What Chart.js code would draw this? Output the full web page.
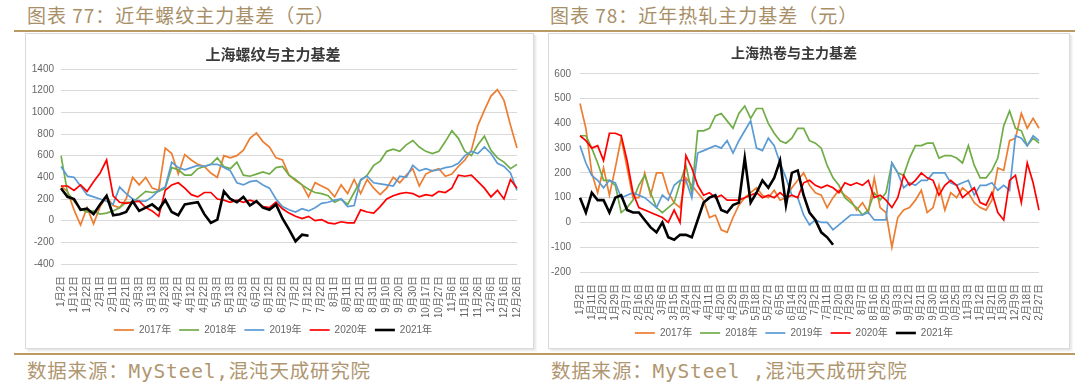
<!DOCTYPE html>
<html>
<head>
<meta charset="utf-8">
<script src="https://cdn.jsdelivr.net/npm/chart.js@4.4.1/dist/chart.umd.min.js"></script>
<style>
    body { margin: 0; width: 1080px; height: 385px; background: #fff; position: relative; overflow: hidden; font-family: "Noto Sans CJK SC", sans-serif; }
    .titulo { position: absolute; top: 3px; font-size: 19px; line-height: 24px; color: #a88f68; letter-spacing: 1px; white-space: nowrap; }
    .regla { position: absolute; left: 14px; width: 1061px; height: 2px; background: #b99a62; }
    .caja { position: absolute; top: 33px; height: 314px; border: 1px solid #dadada; box-shadow: 2px 2px 2px rgba(0,0,0,0.10); background: #fff; }
    .caja canvas { position: absolute; left: 0; top: 0; }
    .fuente { position: absolute; top: 359px; font-family: "DejaVu Sans Mono", "Noto Sans CJK SC", monospace; font-size: 19.5px; line-height: 26px; letter-spacing: 0.8px; color: #b09670; white-space: nowrap; }
</style>
</head>
<body>
<div class="titulo" style="left:27px;">图表 77：近年螺纹主力基差（元）</div>
<div class="titulo" style="left:550px;">图表 78：近年热轧主力基差（元）</div>
<div class="regla" style="top:30px;"></div>

<div class="caja" style="left:25px; width:507px;"><canvas id="chart-rebar" width="507" height="314"></canvas></div>
<div class="caja" style="left:548px; width:520px;"><canvas id="chart-hrc" width="520" height="314"></canvas></div>

<div class="regla" style="top:353px;"></div>
<div class="fuente" style="left:27px;">数据来源：MySteel,混沌天成研究院</div>
<div class="fuente" style="left:551px;">数据来源：MySteel ,混沌天成研究院</div>

<script>
//螺纹: etiquetas del eje cada 10 dias, dos lecturas por intervalo
const ticksRebar = ['1月2日','1月12日','1月22日','2月1日','2月11日','2月21日','3月3日','3月13日','3月23日',
    '4月2日','4月12日','4月22日','5月3日','5月13日','5月23日','6月2日','6月12日','6月22日',
    '7月2日','7月12日','7月22日','8月1日','8月11日','8月21日','8月31日','9月10日','9月20日','9月30日',
    '10月17日','10月27日','11月6日','11月16日','11月26日','12月6日','12月16日','12月26日'];

const rebar2017 = [320,270,100,-40,120,-30,130,220,140,120, 200,400,330,400,300,280,670,620,430,610,
    560,520,500,440,400,600,580,600,650,760, 810,730,680,580,560,420,370,330,220,350,
    320,290,220,330,250,380,250,380,300,240, 300,400,350,420,480,320,430,460,480,410,
    430,500,560,650,880,1020,1150,1210,1110,880, 670];
const rebar2018 = [600,260,180,110,80,90,60,70,90,120, 170,170,220,270,260,270,300,490,470,420,
    420,480,500,520,580,500,480,540,420,410, 430,450,430,490,500,420,380,330,290,260,
    250,230,170,200,150,260,370,420,510,550, 640,660,640,700,740,680,640,620,640,730,
    830,760,640,600,700,780,650,580,540,480, 520];
const rebar2019 = [500,410,400,320,240,220,200,180,150,310, 250,200,180,180,220,280,310,540,490,470,
    490,510,500,520,520,490,460,350,330,360, 370,330,300,200,130,100,80,110,90,120,
    160,170,190,200,130,140,380,410,350,340, 330,320,410,400,510,460,480,460,470,490,
    500,530,600,640,620,680,620,530,500,440, 280];
const rebar2020 = [320,320,280,330,270,360,440,560,230,170, 160,170,180,120,90,40,280,330,350,300,
    240,220,260,260,200,190,170,190,170,190, 170,130,120,170,110,70,40,20,40,0,
    10,-20,-30,-10,-20,-20,100,80,70,130, 200,230,250,260,250,220,240,230,270,260,
    300,420,410,420,360,300,220,280,200,380, 300];
const rebar2021 = [300,220,200,100,110,60,150,230,50,60, 80,180,90,120,150,100,190,80,50,150,
    160,170,60,-20,10,270,200,170,220,140, 180,120,100,150,20,-80,-190,-130,-140];

// 热卷: etiquetas cada 9 dias
const ticksHrc = ['1月2日','1月11日','1月20日','1月29日','2月7日','2月16日','2月25日','3月6日','3月15日','3月24日',
    '4月2日','4月11日','4月20日','4月29日','5月9日','5月18日','5月27日','6月5日','6月14日','6月23日',
    '7月2日','7月11日','7月20日','7月29日','8月7日','8月16日','8月25日','9月3日','9月12日','9月21日',
    '9月30日','10月16日','10月25日','11月3日','11月12日','11月21日','11月30日','12月9日','12月18日','12月27日'];

const hrc2017 = [480,380,200,120,220,110,220,340,220,100, 100,200,110,200,200,120,80,60,180,150,
    120,90,20,30,-30,-40,20,70,100,120, 140,110,100,130,90,100,140,170,200,150,
    120,110,60,100,130,110,90,50,80,40, 180,60,40,-100,20,50,60,90,130,40,
    60,150,50,120,100,140,120,80,60,50, 90,220,210,330,340,440,380,420,380];
const hrc2018 = [350,350,300,240,170,170,150,40,60,90, 150,190,120,60,40,60,80,160,230,120,
    370,370,380,430,440,410,380,440,470,420, 460,460,400,360,330,320,340,380,380,330,
    320,300,230,180,150,100,80,60,30,50, 120,90,120,240,200,190,260,310,310,320,
    320,260,270,270,260,240,310,230,180,180, 210,260,390,450,380,370,310,340,320];
const hrc2019 = [310,240,190,170,140,170,160,100,110,120, 110,100,80,60,110,90,150,170,170,100,
    280,290,300,310,300,330,280,330,370,410, 300,290,340,310,240,180,110,100,30,-10,
    10,0,0,-30,-10,10,30,30,30,40, 10,10,10,240,200,140,160,150,170,170,
    200,200,200,160,150,160,170,110,150,150, 160,130,150,130,350,340,310,350,330];
const hrc2020 = [350,330,300,310,250,360,360,350,250,120, 60,50,40,30,20,0,50,0,270,220,
    150,110,120,100,110,90,90,90,100,110, 120,100,110,100,120,100,110,100,160,170,
    150,140,150,140,120,160,150,160,150,170, 100,110,90,60,100,190,150,170,200,180,
    170,110,150,170,150,100,120,140,80,70, 120,40,10,170,190,80,240,160,50];
const hrc2021 = [100,40,120,90,90,40,100,110,50,40, 40,10,-20,-40,0,-60,-70,-50,-50,-60,
    10,80,100,110,50,40,70,80,260,80, 120,170,140,180,250,70,200,210,110,40,
    10,-40,-60,-90];

const anios = ['2017年', '2018年', '2019年', '2020年', '2021年'];
const colores = ['#ED7D31', '#70AD47', '#5B9BD5', '#FF0000', '#000000'];

function categorias(ticks) {
    // una etiqueta y un hueco vacio entre cada par
    const out = [];
    ticks.forEach((t, i) => {
        out.push(t);
        if (i < ticks.length - 1) out.push('');
    });
    return out;
}

function crearGrafico(id, opts) {
    const canvas = document.getElementById(id);
    const fuenteTxt = "'Liberation Sans', 'Noto Sans CJK SC', sans-serif";

    const datasets = opts.series.map((serie, i) => ({
        label: anios[i],
        data: serie,
        borderColor: colores[i],
        backgroundColor: colores[i],
        borderWidth: i === 4 ? 2.6 : 1.7,
        pointRadius: 0,
        tension: 0,
        order: 4 - i  // 2021 queda encima, como en Excel
    }));

    return new Chart(canvas, {
        type: 'line',
        data: { labels: categorias(opts.ticks), datasets: datasets },
        options: {
            responsive: false,
            animation: false,
            devicePixelRatio: 1,
            layout: { padding: { left: 0, right: opts.padRight, top: 0, bottom: opts.padBottom } },
            plugins: {
                title: {
                    display: true,
                    text: opts.titulo,
                    color: '#3a3a3a',
                    font: { family: "'Noto Sans CJK SC', sans-serif", size: opts.tituloSize, weight: 'bold' },
                    padding: opts.tituloPad
                },
                legend: {
                    position: 'bottom',
                    labels: {
                        usePointStyle: true,
                        pointStyle: 'line',
                        pointStyleWidth: 20,
                        padding: 8,
                        color: '#666',
                        font: { family: fuenteTxt, size: 10 },
                        sort: (a, b) => a.datasetIndex - b.datasetIndex
                    }
                },
                tooltip: { enabled: false }
            },
            scales: {
                x: {
                    offset: false,
                    grid: { display: false },
                    border: { display: false },
                    ticks: {
                        autoSkip: false,
                        minRotation: 90,
                        maxRotation: 90,
                        padding: 4,
                        color: '#666',
                        font: { family: fuenteTxt, size: 10 }
                    },
                    afterFit: (s) => { s.height = opts.ejeXAlto; }
                },
                y: {
                    min: opts.min,
                    max: opts.max,
                    grid: { color: '#d9d9d9', lineWidth: 1, drawTicks: false },
                    border: { display: false },
                    ticks: {
                        stepSize: opts.paso,
                        padding: opts.ejeYPad,
                        color: '#666',
                        font: { family: fuenteTxt, size: 10 },
                        callback: (v) => String(v)  // sin separador de miles
                    },
                    afterFit: (s) => { s.width = opts.ejeYAncho; }
                }
            }
        }
    });
}

crearGrafico('chart-rebar', {
    titulo: '上海螺纹与主力基差',
    tituloSize: 15,
    tituloPad: { top: 11, bottom: 6 },
    ticks: ticksRebar,
    series: [rebar2017, rebar2018, rebar2019, rebar2020, rebar2021],
    min: -400, max: 1400, paso: 200,
    ejeYAncho: 35, ejeYPad: 7, ejeXAlto: 53,
    padRight: 13, padBottom: 3
});

crearGrafico('chart-hrc', {
    titulo: '上海热卷与主力基差',
    tituloSize: 14,
    tituloPad: { top: 10, bottom: 13 },
    ticks: ticksHrc,
    series: [hrc2017, hrc2018, hrc2019, hrc2020, hrc2021],
    min: -200, max: 600, paso: 100,
    ejeYAncho: 31, ejeYPad: 9, ejeXAlto: 48,
    padRight: 30, padBottom: 0
});
</script>
</body>
</html>
